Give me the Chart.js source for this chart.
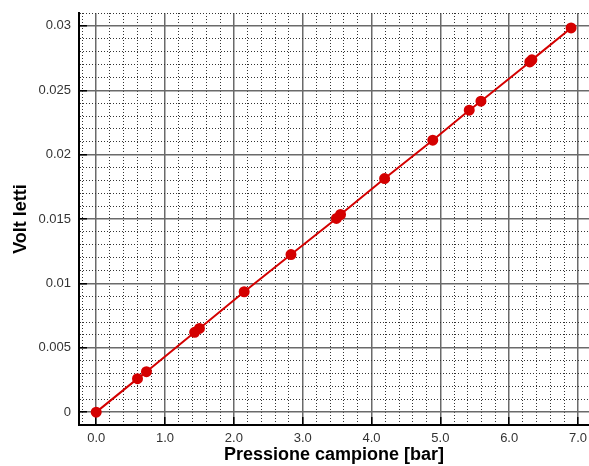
<!DOCTYPE html>
<html>
<head>
<meta charset="utf-8">
<script src="https://cdn.jsdelivr.net/npm/chart.js@4"></script>
<style>
  html, body { margin: 0; padding: 0; background: #fff; }
  #box { width: 589px; height: 466px; position: relative; }
</style>
</head>
<body>
<div id="box"><canvas id="myChart"></canvas></div>
<script>
// dati
const pressione = [0.0, 0.60, 0.73, 1.43, 1.50, 2.15, 2.83, 3.49, 3.55, 4.19, 4.89, 5.42, 5.59, 6.30, 6.33, 6.90];
const volt = [0, 0.0026, 0.00314, 0.0062, 0.0065, 0.00935, 0.01224, 0.01504, 0.01535, 0.01814, 0.02112, 0.02345, 0.02415, 0.0272, 0.02736, 0.02984];
const xMajor = 1.0, xMinor = 0.2;
const yMajor = 0.005, yMinor = 0.001;

const punti = pressione.map((p, i) => ({x: p, y: volt[i]}));

function isMajor(v, step) {
  const r = v / step;
  return Math.abs(r - Math.round(r)) < 1e-6;
}
const rosso = '#d40000';
const fontTick = {family: 'Liberation Sans, Arial', size: 13};

function gridOpts(step) {
  return {
    color: c => (c.type === 'tick' && isMajor(c.tick.value, step)) ? '#6a6a6a' : '#333',
    lineWidth: c => (c.type === 'tick' && isMajor(c.tick.value, step)) ? 1.5 : 1,
    tickLength: -8,
    tickColor: c => (c.type === 'tick' && isMajor(c.tick.value, step)) ? '#000' : 'rgba(0,0,0,0)',
    tickWidth: 1.5
  };
}
function borderOpts(step) {
  return {
    color: '#000',
    width: 2,
    dash: c => (c.type === 'tick' && !isMajor(c.tick.value, step)) ? [1, 2] : []
  };
}

const ctx = document.getElementById('myChart');
const myChart = new Chart(ctx, {
  type: 'scatter',
  data: {
    datasets: [{
      data: punti,
      showLine: true,
      borderColor: rosso,
      backgroundColor: rosso,
      borderWidth: 2,
      pointRadius: 4.5,
      pointHoverRadius: 4.5
    }]
  },
  options: {
    responsive: true,
    maintainAspectRatio: false,
    animation: false,
    layout: {autoPadding: false, padding: {top: 13, left: 0, right: 0, bottom: 0}},
    plugins: {legend: {display: false}, tooltip: {enabled: false}},
    scales: {
      x: {
        type: 'linear',
        min: -0.25,
        max: 7.16,
        afterFit: s => { s.height = 41; s.paddingLeft = 0; s.paddingRight = 0; },
        grid: gridOpts(xMajor),
        border: borderOpts(xMajor),
        ticks: {
          stepSize: xMinor,
          includeBounds: false,
          autoSkip: false,
          maxRotation: 0,
          padding: 14,
          color: '#333',
          font: fontTick,
          callback: v => isMajor(v, xMajor) ? v.toFixed(1) : ''
        },
        title: {
          display: true,
          text: 'Pressione campione [bar]',
          color: '#000',
          font: {family: 'Liberation Sans, Arial', size: 18, weight: 'bold'},
          padding: {top: 0, bottom: 0}
        }
      },
      y: {
        type: 'linear',
        min: -0.001,
        max: 0.031,
        afterFit: s => { s.width = 79; s.paddingTop = 0; s.paddingBottom = 0; },
        grid: gridOpts(yMajor),
        border: borderOpts(yMajor),
        ticks: {
          stepSize: yMinor,
          autoSkip: false,
          padding: 16,
          color: '#333',
          font: fontTick,
          callback: v => isMajor(v, yMajor) ? String(parseFloat(v.toFixed(4))) : ''
        },
        title: {
          display: true,
          text: 'Volt letti',
          color: '#000',
          font: {family: 'Liberation Sans, Arial', size: 18, weight: 'bold'},
          padding: {top: 10, bottom: 0}
        }
      }
    }
  }
});
</script>
</body>
</html>
